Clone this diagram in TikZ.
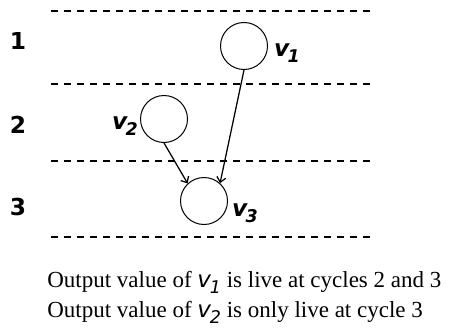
\documentclass[tikz,border=0pt]{standalone}
\usepackage{fontspec}
\setmainfont{Liberation Serif}
\newfontfamily\labfont{DejaVu Sans}
\usetikzlibrary{arrows.meta,positioning}

% value names: bold oblique in the diagram, plain oblique in the text
\newcommand{\vlab}[1]{{\labfont\bfseries\itshape v\kern-0.08em\raisebox{-0.5ex}{\fontsize{10.5}{11}\selectfont #1}}}
\newcommand{\vtxt}[1]{{\labfont\itshape v\kern-0.05em\raisebox{-0.5ex}{\fontsize{10.5}{11}\selectfont #1}}}

\begin{document}
\begin{tikzpicture}[x=0.6pt,y=-0.6pt,
    val/.style={circle,draw,line width=0.6pt,minimum size=28.2pt,inner sep=0pt},
    cyc/.style={font=\labfont\bfseries\fontsize{14}{16}\selectfont,inner sep=0pt},
    vname/.style={font=\fontsize{14}{16}\selectfont,inner sep=0pt},
    sep/.style={line width=1.2pt,dash pattern=on 4.2pt off 3.6pt},
    dep/.style={-{Straight Barb[length=3pt,width=5.4pt]},line width=0.75pt}]
    \useasboundingbox (0,0) rectangle (459,335);

    \foreach \y in {11,84,161,237} {
        \draw[sep] (51,\y) -- (372,\y);
    }

    \node[cyc] (c1) at (18,41) {1};
    \node[cyc] (c2) at (18,125) {2};
    \node[cyc] (c3) at (18,207) {3};

    \node[val] (v1) at (244,46) {};
    \node[val] (v2) at (164,119) {};
    \node[val] (v3) at (204,201) {};

    \node[vname] (n1) at (287,53) {\vlab{1}};
    \node[vname] (n2) at (125,126) {\vlab{2}};
    \node[vname] (n3) at (245,213) {\vlab{3}};

    \draw[dep] (v1.south) -- (v3.48);
    \draw[dep] (v2.south) -- (v3.133);

    \node[anchor=base west,inner sep=0pt,font=\fontsize{13.8}{16}\selectfont] (t1) at (47,287)
        {Output value of \vtxt{1} is live at cycles 2 and 3};
    \node[anchor=base west,inner sep=0pt,font=\fontsize{13.8}{16}\selectfont] (t2) at (47,317)
        {Output value of \vtxt{2} is only live at cycle 3};
\end{tikzpicture}
\end{document}
